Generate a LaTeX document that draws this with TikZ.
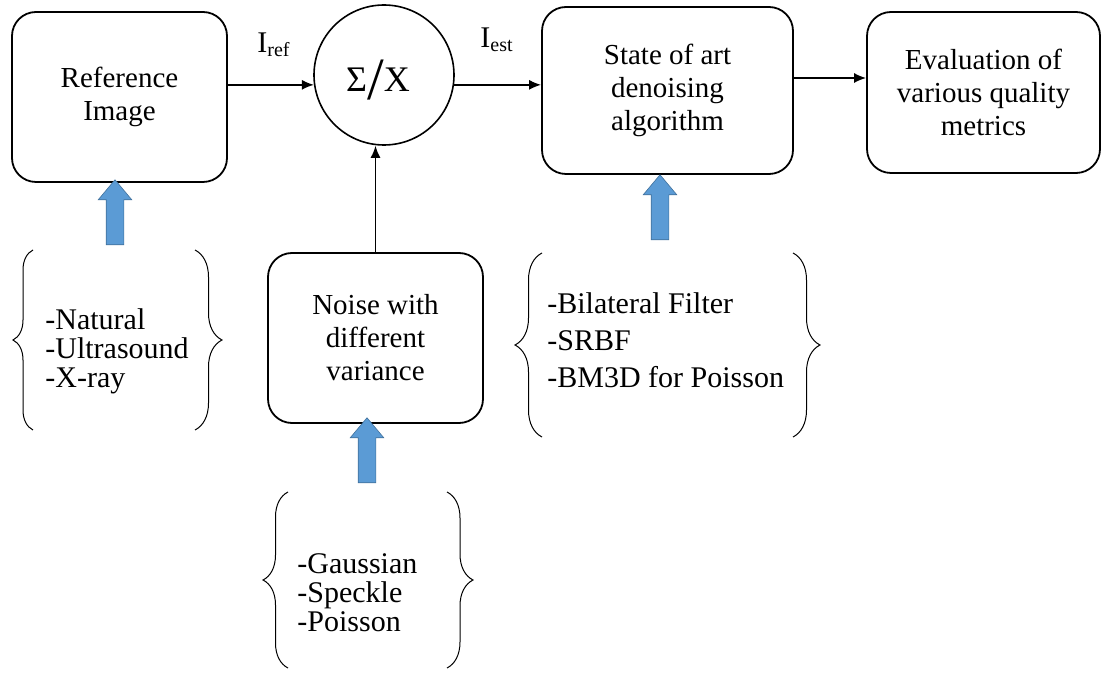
\documentclass[tikz,border=0pt]{standalone}
\usepackage{fontspec}
\setmainfont{Liberation Serif}
\usepackage{tikz}
\usetikzlibrary{arrows.meta,shapes.arrows,decorations.pathreplacing,positioning}
\definecolor{arrow-blue}{RGB}{91,155,213}
\definecolor{arrow-edge}{RGB}{65,113,156}

\begin{document}
\begin{tikzpicture}[x=0.5pt,y=-0.5pt,
  block/.style={draw, line width=0.9pt, rounded corners=12pt, align=center, inner sep=0pt, font=\fontsize{14.5}{16.5}\selectfont},
  uparrow/.style={single arrow, rotate=90, fill=arrow-blue, draw=arrow-edge, line width=0.3pt, minimum height=32.5pt, minimum width=16.5pt, single arrow head extend=4pt, single arrow tip angle=80, inner sep=4.25pt},
  curly/.style={decorate, decoration={brace, amplitude=#1}, line width=0.5pt},
  items/.style={anchor=west, align=left, inner sep=0pt},
  >={Latex[length=6pt,width=5pt]}]

\useasboundingbox (0,0) rectangle (1103,673);

\node[block, minimum width=107.5pt, minimum height=85pt] (ref) at (119.5,97) {Reference\\Image};
\node[draw, line width=0.8pt, circle, minimum size=70pt, inner sep=0pt] (sum) at (384,75) {};
\node[inner sep=0pt] (sumtext) at (378,80) {\fontsize{18}{18}\selectfont Σ\raisebox{-4pt}{\fontsize{30}{30}\selectfont /}X};
\node[block, minimum width=125.5pt, minimum height=83.5pt] (state) at (667.5,90.5) {State of art\\denoising\\algorithm};
\node[block, minimum width=116.5pt, minimum height=80.5pt] (eval) at (983.5,92.5) {Evaluation of\\various quality\\metrics};
\node[block, minimum width=107.5pt, minimum height=85pt] (noise) at (375.5,338) {Noise with\\different\\variance};

\node[font=\fontsize{15}{15}\selectfont] (iref) at (274,45) {I\textsubscript{\fontsize{10}{10}\selectfont ref}};
\node[font=\fontsize{15}{15}\selectfont] (iest) at (497,40) {I\textsubscript{\fontsize{10}{10}\selectfont est}};

\draw[line width=0.75pt,->] (ref.east |- sum.188) -- (sum.188);
\draw[line width=0.75pt,->] (sum.352) -- (state.west |- sum.352);
\draw[line width=0.75pt,->] (state.east |- 0,78) -- (eval.west |- 0,78);
\draw[line width=0.75pt,->] (noise.north) -- (noise.north |- sum.south);

\node[uparrow] (refarrow) at (115,217.5) {};
\node[uparrow] (statearrow) at (660,212.5) {};
\node[uparrow] (noisearrow) at (367,455.5) {};

\node[items, font=\fontsize{15}{14.5}\selectfont] (images) at (45,351) {-Natural\\-Ultrasound\\-X-ray};
\draw[curly=10pt] (33,430) -- (33,250);
\draw[curly=13.5pt] (195,250) -- (195,430);

\node[items, font=\fontsize{15}{18.5}\selectfont] (filters) at (547,340) {-Bilateral Filter\\-SRBF\\-BM3D for Poisson};
\draw[curly=13.5pt] (542,437) -- (542,253);
\draw[curly=13.5pt] (793,253) -- (793,437);

\node[items, font=\fontsize{15}{14.5}\selectfont] (noises) at (297,593) {-Gaussian\\-Speckle\\-Poisson};
\draw[curly=12.5pt] (288,668) -- (288,492);
\draw[curly=13pt] (447,492) -- (447,668);

\end{tikzpicture}
\end{document}
